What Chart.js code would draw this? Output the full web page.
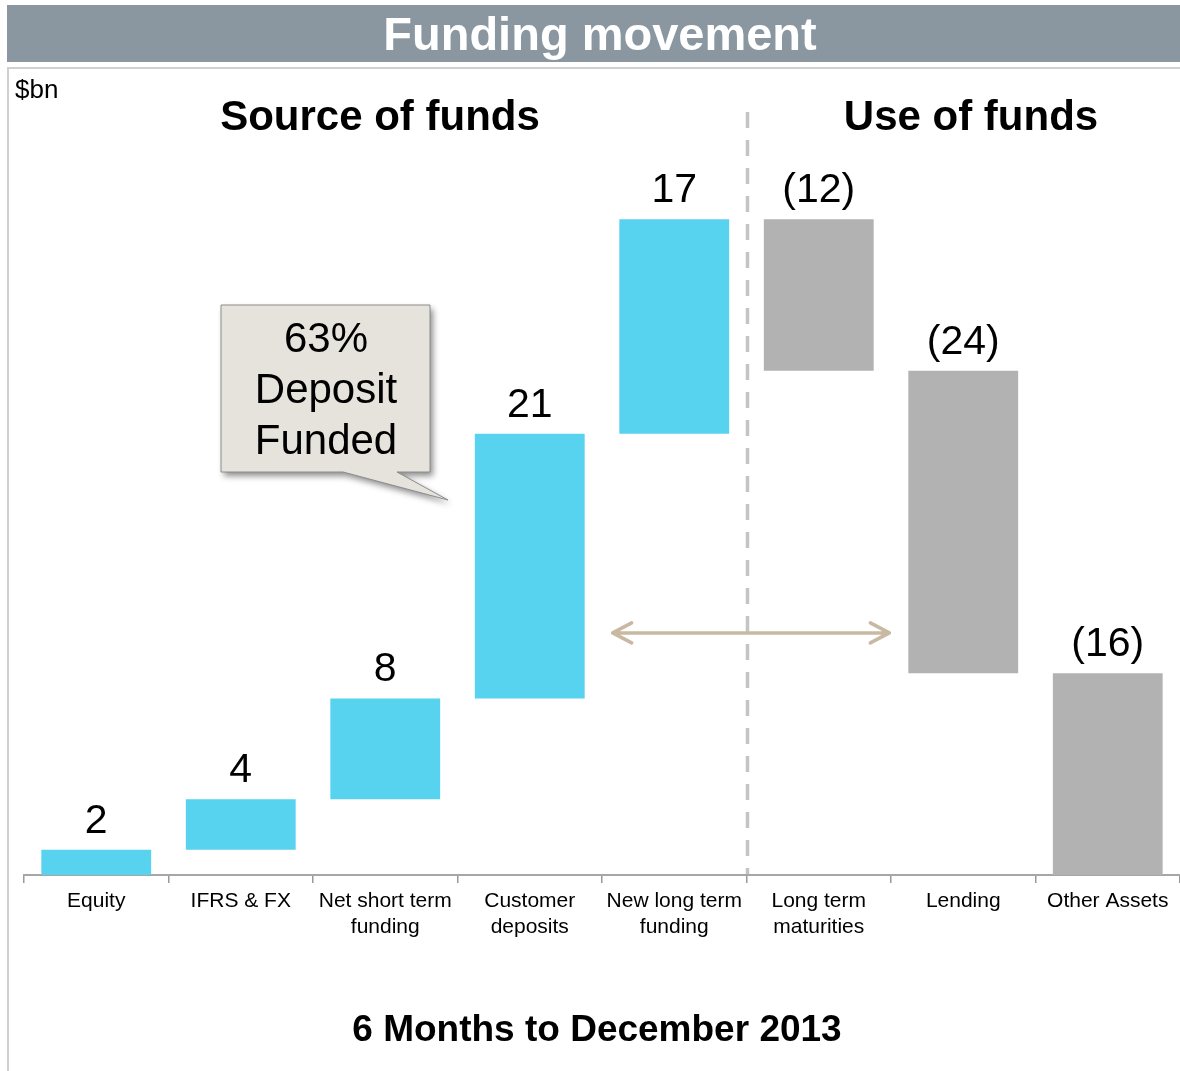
<!DOCTYPE html>
<html>
<head>
<meta charset="utf-8">
<title>Funding movement</title>
<script src="https://cdn.jsdelivr.net/npm/chart.js@4"></script>
<style>
    html, body { margin: 0; padding: 0; background: #ffffff; }
    #chart { display: block; }
</style>
</head>
<body>
<canvas id="chart" width="1180" height="1071"></canvas>
<script>
// Data ($bn)
const categories = [
    'Equity', 'IFRS & FX', ['Net short term', 'funding'], ['Customer', 'deposits'],
    ['New long term', 'funding'], ['Long term', 'maturities'], 'Lending', 'Other Assets'
];
const movements = [2, 4, 8, 21, 17, -12, -24, -16];
const valueLabels = ['2', '4', '8', '21', '17', '(12)', '(24)', '(16)'];
const calloutLines = ['63%', 'Deposit', 'Funded'];

const BLUE = '#57d2ef';
const GREY = '#b2b2b2';
const FONT = '"Liberation Sans", Arial, Helvetica, sans-serif';

// floating bars: each one runs from the running total before to the running total after
let running = 0;
const floating = movements.map(v => {
    const start = running;
    running += v;
    return [start, running];
});

const decorations = {
    id: 'decorations',
    beforeDraw(chart) {
        const ctx = chart.ctx;
        ctx.save();
        // title bar
        ctx.fillStyle = '#8a97a0';
        ctx.fillRect(7, 5, 1173, 57);
        ctx.fillStyle = '#ffffff';
        ctx.font = 'bold 47px ' + FONT;
        ctx.textAlign = 'center';
        ctx.textBaseline = 'middle';
        ctx.fillText('Funding movement', 600, 37);

        // frame lines
        ctx.strokeStyle = '#d0d0d0';
        ctx.lineWidth = 2;
        ctx.beginPath();
        ctx.moveTo(7, 68); ctx.lineTo(1180, 68);
        ctx.moveTo(8, 68); ctx.lineTo(8, 1071);
        ctx.stroke();

        // unit + section headings
        ctx.fillStyle = '#000000';
        ctx.textAlign = 'left';
        ctx.font = '26px ' + FONT;
        ctx.fillText('$bn', 15, 91);
        ctx.textAlign = 'center';
        ctx.font = 'bold 42px ' + FONT;
        ctx.fillText('Source of funds', 380, 118);
        ctx.fillText('Use of funds', 971, 118);

        // footer
        ctx.font = 'bold 37px ' + FONT;
        ctx.fillText('6 Months to December 2013', 597, 1031);

        // dashed divider between sources and uses
        const xs = chart.scales.x;
        const divX = (xs.getPixelForValue(4) + xs.getPixelForValue(5)) / 2 + 1;
        ctx.strokeStyle = '#c4c4c4';
        ctx.lineWidth = 3.5;
        ctx.setLineDash([16, 12]);
        ctx.beginPath();
        ctx.moveTo(divX, 112);
        ctx.lineTo(divX, chart.chartArea.bottom);
        ctx.stroke();
        ctx.restore();
    },
    afterDatasetsDraw(chart) {
        const ctx = chart.ctx;
        const meta = chart.getDatasetMeta(0);
        ctx.save();

        // value labels above each bar
        ctx.fillStyle = '#000000';
        ctx.font = '41px ' + FONT;
        ctx.textAlign = 'center';
        ctx.textBaseline = 'alphabetic';
        meta.data.forEach((bar, i) => {
            const top = Math.min(bar.y, bar.base);
            ctx.fillText(valueLabels[i], bar.x, top - 17);
        });

        // double-headed arrow between deposits and lending
        const ys = chart.scales.y;
        const ay = ys.getPixelForValue(19.2);
        const x1 = meta.data[3].x + meta.data[3].width / 2 + 28;
        const x2 = meta.data[6].x - meta.data[6].width / 2 - 19;
        ctx.strokeStyle = '#c9b9a3';
        ctx.lineWidth = 3.5;
        ctx.lineCap = 'round';
        ctx.lineJoin = 'round';
        ctx.beginPath();
        ctx.moveTo(x1, ay); ctx.lineTo(x2, ay);
        ctx.moveTo(x1 + 19, ay - 10); ctx.lineTo(x1, ay); ctx.lineTo(x1 + 19, ay + 10);
        ctx.moveTo(x2 - 19, ay - 10); ctx.lineTo(x2, ay); ctx.lineTo(x2 - 19, ay + 10);
        ctx.stroke();

        // callout box with tail
        ctx.lineCap = 'butt';
        ctx.lineJoin = 'miter';
        ctx.beginPath();
        ctx.moveTo(221, 305);
        ctx.lineTo(430, 305);
        ctx.lineTo(430, 472);
        ctx.lineTo(397, 472);
        ctx.lineTo(448, 500);
        ctx.lineTo(343, 472);
        ctx.lineTo(221, 472);
        ctx.closePath();
        ctx.save();
        ctx.shadowColor = 'rgba(0,0,0,0.45)';
        ctx.shadowBlur = 6;
        ctx.shadowOffsetX = 3;
        ctx.shadowOffsetY = 4;
        ctx.fillStyle = '#e6e2dc';
        ctx.fill();
        ctx.restore();
        ctx.strokeStyle = '#8c8c8c';
        ctx.lineWidth = 1;
        ctx.stroke();

        ctx.fillStyle = '#000000';
        ctx.font = '42px ' + FONT;
        ctx.textBaseline = 'middle';
        calloutLines.forEach((line, i) => {
            ctx.fillText(line, 326, 340 + i * 51);
        });
        ctx.restore();
    }
};

new Chart(document.getElementById('chart'), {
    type: 'bar',
    data: {
        labels: categories,
        datasets: [{
            data: floating,
            backgroundColor: movements.map(v => v >= 0 ? BLUE : GREY),
            borderWidth: 0,
            borderSkipped: false,
            barPercentage: 0.76,
            categoryPercentage: 1
        }]
    },
    options: {
        responsive: false,
        animation: false,
        layout: { padding: { left: 24, top: 150, right: 0, bottom: 0 } },
        plugins: {
            legend: { display: false },
            tooltip: { enabled: false },
            title: { display: false }
        },
        scales: {
            x: {
                afterFit: (scale) => { scale.height = 196; },
                grid: {
                    display: true,
                    drawOnChartArea: false,
                    drawTicks: true,
                    tickLength: 8,
                    color: '#9a9a9a',
                    lineWidth: 1.5,
                    offset: true
                },
                border: { display: true, color: '#a6a6a6', width: 2 },
                ticks: {
                    color: '#000000',
                    padding: 6,
                    maxRotation: 0,
                    autoSkip: false,
                    font: { family: FONT, size: 21, lineHeight: 1.2 }
                }
            },
            y: {
                display: false,
                min: 0,
                max: 57.5
            }
        }
    },
    plugins: [decorations]
});
</script>
</body>
</html>
